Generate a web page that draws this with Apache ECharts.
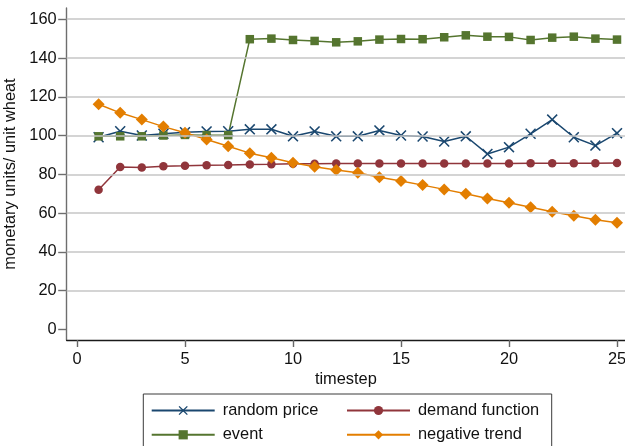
<!DOCTYPE html>
<html>
<head>
<meta charset="utf-8">
<script src="https://cdn.jsdelivr.net/npm/echarts@6/dist/echarts.min.js"></script>
<style>
  html, body { margin: 0; padding: 0; background: #fff; }
  #chart { width: 625px; height: 446px; }
</style>
</head>
<body>
<div id="chart"></div>
<script>
// Simulated wheat prices per timestep for four price scenarios
const timesteps = [1,2,3,4,5,6,7,8,9,10,11,12,13,14,15,16,17,18,19,20,21,22,23,24,25];

const randomPrice = [99.1,102.2,100.0,100.9,101.7,102.1,102.2,103.2,103.2,99.6,102.1,99.6,99.6,102.6,100.0,99.5,96.9,99.6,90.5,94.0,100.9,108.2,99.1,94.8,101.2];
const demandFunction = [72.0,83.7,83.5,84.2,84.4,84.7,84.8,85.1,85.2,85.4,85.4,85.5,85.5,85.5,85.5,85.6,85.6,85.6,85.6,85.6,85.7,85.7,85.7,85.7,85.8];
const eventPrice = [99.6,99.6,99.6,100.0,100.3,100.2,100.2,149.7,150.0,149.3,148.8,148.1,148.6,149.5,149.8,149.7,150.7,151.7,151.0,150.9,149.3,150.5,151.0,150.0,149.5];
const negativeTrend = [116.1,111.7,108.2,104.6,101.4,97.9,94.5,90.9,88.5,85.9,83.9,82.2,80.8,78.5,76.5,74.4,72.2,69.9,67.5,65.3,63.0,60.7,58.6,56.5,55.0];

const xTicks = [0,5,10,15,20,25];
const yTicks = [0,20,40,60,80,100,120,140,160];

const seriesNames = ['random price','demand function','event','negative trend'];

const FONT = 'Liberation Sans, Arial, Helvetica, sans-serif';
const xMark = 'path://M0,1L1,0L5,4L9,0L10,1L6,5L10,9L9,10L5,6L1,10L0,9L4,5Z';

function pairs(values) {
  return timesteps.map((t, i) => [t, values[i]]);
}

function lineSeries(name, values, color, symbol, size) {
  return {
    name: name,
    type: 'line',
    data: pairs(values),
    symbol: symbol,
    symbolSize: size,
    showAllSymbol: true,
    lineStyle: { color: color, width: 1.5 },
    itemStyle: { color: color, borderWidth: 0 },
    emphasis: { disabled: true }
  };
}

const chart = echarts.init(document.getElementById('chart'), null, { renderer: 'canvas' });

const legendBase = {
  orient: 'vertical',
  top: 401.5,
  padding: 0,
  itemWidth: 63,
  itemHeight: 11.5,
  itemGap: 6.3,
  selectedMode: false,
  textStyle: { fontSize: 16.4, color: '#111', fontFamily: FONT, lineHeight: 18, padding: [0, 0, 0, 3] }
};

chart.setOption({
  animation: false,
  backgroundColor: '#ffffff',
  textStyle: { fontFamily: FONT },
  grid: { left: 66.7, top: 8, right: 0, bottom: 106, containLabel: false, outerBoundsMode: 'none' },
  xAxis: {
    type: 'value',
    min: -0.477,
    max: 25.37,
    name: 'timestep',
    nameLocation: 'middle',
    nameGap: 29,
    nameTextStyle: { fontSize: 16.4, color: '#111', fontFamily: FONT },
    axisLine: { show: true, onZero: false, lineStyle: { color: '#1a1a1a', width: 1.4 } },
    axisTick: { show: true, length: 7, customValues: xTicks, lineStyle: { color: '#666', width: 1.4 } },
    axisLabel: { customValues: xTicks, fontSize: 16.4, color: '#111', margin: 11, fontFamily: FONT, showMinLabel: true, showMaxLabel: true },
    splitLine: { show: false }
  },
  yAxis: {
    type: 'value',
    min: -5.52,
    max: 165.8,
    name: 'monetary units/ unit wheat',
    nameLocation: 'middle',
    nameRotate: 90,
    nameGap: 41,
    nameTextStyle: { fontSize: 16.4, color: '#111', fontFamily: FONT },
    axisLine: { show: true, onZero: false, lineStyle: { color: '#6e6e6e', width: 1.4 } },
    axisTick: { show: true, length: 8.5, customValues: yTicks, lineStyle: { color: '#6e6e6e', width: 1.4 } },
    axisLabel: { customValues: yTicks, fontSize: 16.4, color: '#111', margin: 10, fontFamily: FONT, showMinLabel: true, showMaxLabel: true },
    splitLine: { show: false }
  },
  legend: [
    Object.assign({}, legendBase, { data: [seriesNames[0], seriesNames[2]], left: 150.7 }),
    Object.assign({}, legendBase, { data: [seriesNames[1], seriesNames[3]], left: 346 })
  ],
  graphic: [
    {
      type: 'rect',
      shape: { x: 143.3, y: 394, width: 408.4, height: 70 },
      style: { fill: 'none', stroke: '#3a3a3a', lineWidth: 1 },
      z: 0,
      silent: true
    }
  ],
  series: [
    {
      name: 'gridlines',
      type: 'line',
      data: [],
      silent: true,
      z: 1,
      markLine: {
        silent: true,
        symbol: ['none', 'none'],
        label: { show: false },
        lineStyle: { color: '#c6c6c6', width: 1.6, type: 'solid' },
        emphasis: { disabled: true },
        data: yTicks.filter(v => v !== 0).map(v => ({ yAxis: v }))
      }
    },
    lineSeries(seriesNames[0], randomPrice, '#1a476f', xMark, 11),
    lineSeries(seriesNames[1], demandFunction, '#90353b', 'circle', 8.5),
    lineSeries(seriesNames[2], eventPrice, '#55752f', 'rect', 8.5),
    lineSeries(seriesNames[3], negativeTrend, '#e37e00', 'diamond', 12)
  ]
});
</script>
</body>
</html>
